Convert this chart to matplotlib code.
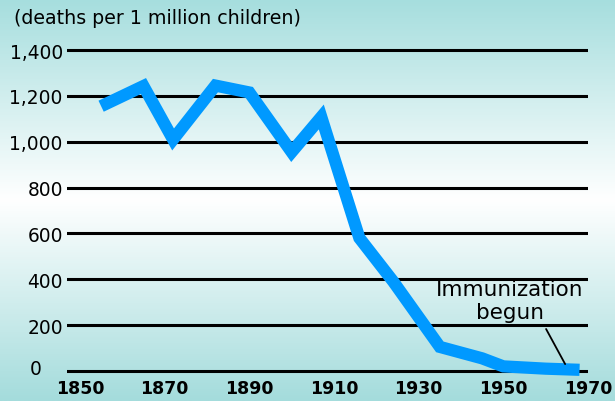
import numpy as np
import matplotlib
matplotlib.use("Agg")
import matplotlib.pyplot as plt
from matplotlib.colors import LinearSegmentedColormap
from matplotlib.transforms import ScaledTranslation

# values
years = [1855, 1865, 1872, 1882, 1890, 1900, 1907, 1916, 1924, 1935, 1940, 1945, 1950, 1960, 1968]
deaths = [1155, 1243, 1010, 1245, 1215, 955, 1108, 580, 390, 105, 80, 55, 20, 10, 5]

y_ticks = [0, 200, 400, 600, 800, 1000, 1200, 1400]
y_labels = ["0", "200", "400", "600", "800", "1,000", "1,200", "1,400"]
x_ticks = [1850, 1870, 1890, 1910, 1930, 1950, 1970]

line_blue = "#0099ff"

fig = plt.figure(figsize=(6.15, 4.02), dpi=100)

# cyan-white-cyan background
bg = fig.add_axes([0, 0, 1, 1], zorder=-1)
cmap = LinearSegmentedColormap.from_list(
    "bg", [(0.0, "#a6dede"), (0.5, "#ffffff"), (1.0, "#a4dcdc")])
bg.imshow(np.linspace(0, 1, 256).reshape(-1, 1), aspect="auto", cmap=cmap,
          extent=[0, 1, 0, 1])
bg.set_axis_off()

ax = fig.add_axes([67 / 615, 1 - 375.4 / 402, 521 / 615, (375.4 - 47.6) / 402])
ax.patch.set_alpha(0)
ax.set_xlim(1850 - 13 / 4.25, 1970 - 2 / 4.25)
ax.set_ylim(-15, 1415)

ax.plot(years, deaths, color=line_blue, lw=8.8, solid_joinstyle="miter",
        solid_capstyle="butt", clip_on=False, zorder=3)

for s in ax.spines.values():
    s.set_visible(False)
ax.set_yticks(y_ticks)
ax.set_yticklabels(y_labels, fontsize=13.4)
ax.set_xticks(x_ticks)
ax.set_xticklabels([str(x) for x in x_ticks], fontsize=12.5,
                   fontweight="bold")
ax.tick_params(length=0, pad=3)
ax.tick_params(axis="y", pad=3)
ax.grid(axis="y", color="black", lw=2.2)
ax.grid(axis="x", visible=False)
ax.set_axisbelow(True)

# the "0" sits further left and a bit higher than the others
zero = ax.get_yticklabels()[0]
zero.set_transform(zero.get_transform()
                   + ScaledTranslation(-0.21, 0.04, fig.dpi_scale_trans))

fig.text(14 / 615, 1 - 18 / 402, "(deaths per 1 million children)",
         fontsize=13.7, va="center", ha="left")

ax.text(1951.6, 308, "Immunization\nbegun", ha="center", va="center",
        fontsize=15.5, linespacing=1.2)
ax.annotate("", xy=(1964.6, 30), xytext=(1960.1, 183),
            arrowprops=dict(arrowstyle="-", color="black", lw=1.3,
                            shrinkA=0, shrinkB=0))

fig.savefig("out.png", dpi=100)
